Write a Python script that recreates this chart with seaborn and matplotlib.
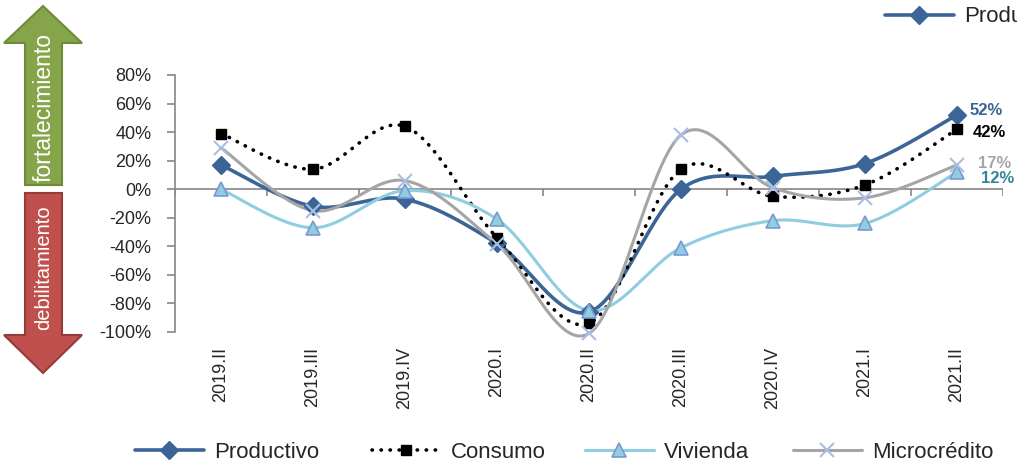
import numpy as np
import pandas as pd
import matplotlib.pyplot as plt
import seaborn as sns
from matplotlib.lines import Line2D
from matplotlib.patches import Polygon
from matplotlib.ticker import PercentFormatter

periodos = ["2019.II", "2019.III", "2019.IV", "2020.I", "2020.II",
            "2020.III", "2020.IV", "2021.I", "2021.II"]
productivo = [0.17, -0.12, -0.07, -0.38, -0.86, 0.00, 0.09, 0.18, 0.52]
consumo = [0.39, 0.14, 0.44, -0.34, -0.94, 0.14, -0.05, 0.03, 0.42]
vivienda = [0.00, -0.27, -0.01, -0.21, -0.85, -0.41, -0.22, -0.24, 0.12]
microcredito = [0.29, -0.15, 0.06, -0.385, -1.01, 0.38, 0.01, -0.06, 0.17]
nombres = ["Productivo", "Consumo", "Vivienda", "Microcrédito"]
marcas_y = [-1.0, -0.8, -0.6, -0.4, -0.2, 0.0, 0.2, 0.4, 0.6, 0.8]

sns.set_style("white")
plt.rcParams["font.family"] = ["Liberation Sans", "DejaVu Sans"]
plt.rcParams["axes.unicode_minus"] = False


def suavizar(y, n=30):
    # curva suave tipo excel (bezier con tangentes catmull-rom)
    p = np.column_stack([np.arange(len(y)), y])
    pts = []
    for i in range(len(p) - 1):
        p0 = p[i - 1] if i > 0 else p[i]
        p3 = p[i + 2] if i + 2 < len(p) else p[i + 1]
        c1 = p[i] + (p[i + 1] - p0) / 6
        c2 = p[i + 1] - (p3 - p[i]) / 6
        t = np.linspace(0, 1, n)[:, None]
        seg = (1 - t) ** 3 * p[i] + 3 * (1 - t) ** 2 * t * c1 + 3 * (1 - t) * t ** 2 * c2 + t ** 3 * p[i + 1]
        pts.append(seg if i == 0 else seg[1:])
    return np.vstack(pts)


estilos = {
    "Productivo": dict(color="#3B6596", lw=2.6, ls="-", marker="D", ms=9, mfc="#3B6596", mec="#3B6596", mew=1),
    "Consumo": dict(color="black", lw=2.6, ls=(0, (0.1, 2.4)), marker="s", ms=7.5, mfc="black", mec="black", mew=1),
    "Vivienda": dict(color="#8FCDE0", lw=2.2, ls="-", marker="^", ms=10, mfc="#8FCDE0", mec="#7B98D0", mew=1.2),
    "Microcrédito": dict(color="#A5A5A5", lw=2.2, ls="-", marker="x", ms=10, mfc="#A9BEE3", mec="#A9BEE3", mew=1.5),
}
colores_etiqueta = {"Productivo": "#3B6596", "Consumo": "black", "Vivienda": "#31849B", "Microcrédito": "#A5A5A5"}
desfases = {"Productivo": (13, 4), "Consumo": (16, -3), "Vivienda": (24, -6), "Microcrédito": (21, 1)}

fig = plt.figure(figsize=(10.17, 4.66), dpi=100)

# flechas de la izquierda
fondo = fig.add_axes([0, 0, 1, 1], zorder=0)
fondo.set_xlim(0, 1017)
fondo.set_ylim(466, 0)
fondo.axis("off")
arriba = [(43, 6), (82, 43), (62, 43), (62, 185), (25, 185), (25, 43), (4, 43)]
abajo = [(25, 193), (62, 193), (62, 335), (82, 335), (43, 373), (4, 335), (25, 335)]
fondo.add_patch(Polygon(arriba, closed=True, fc="#86A54A", ec="#6E8A3A", lw=1.5))
fondo.add_patch(Polygon(abajo, closed=True, fc="#C0504D", ec="#963B38", lw=1.5))
fondo.text(44, 108, "fortalecimiento", rotation=90, color="white", ha="center", va="center", fontsize=16.5)
fondo.text(44, 268, "debilitamiento", rotation=90, color="white", ha="center", va="center", fontsize=14.5)

ax = fig.add_axes([175 / 1017, 1 - 332 / 466, (1003 - 175) / 1017, (332 - 75) / 466], zorder=1)
ax.patch.set_alpha(0)

datos = {"Productivo": productivo, "Consumo": consumo, "Vivienda": vivienda, "Microcrédito": microcredito}
x = np.arange(len(periodos))
for nombre in nombres:
    est = estilos[nombre]
    curva = suavizar(datos[nombre])
    df = pd.DataFrame({"x": curva[:, 0], "y": curva[:, 1]})
    sns.lineplot(data=df, x="x", y="y", ax=ax, sort=False, color=est["color"], lw=est["lw"],
                 linestyle=est["ls"], dash_capstyle="round", clip_on=False)
    ax.plot(x, datos[nombre], ls="none", marker=est["marker"], ms=est["ms"], mfc=est["mfc"],
            mec=est["mec"], mew=est["mew"], clip_on=False, zorder=3)
    ultimo = datos[nombre][-1]
    ax.annotate(f"{ultimo:.0%}", (x[-1], ultimo), xytext=desfases[nombre], textcoords="offset pixels",
                ha="left", va="center", fontsize=12, fontweight="bold", color=colores_etiqueta[nombre])

ax.set_xlim(-0.5, len(periodos) - 0.5)
ax.set_ylim(-1.0, 0.8)
ax.set_yticks(marcas_y)
ax.yaxis.set_major_formatter(PercentFormatter(1.0, decimals=0))
ax.set_xticks(x)
ax.set_xticklabels(periodos, rotation=90)
ax.tick_params(axis="x", length=0, pad=11, labelsize=13)
ax.tick_params(axis="y", length=6, width=1.2, color="#868686", pad=11, labelsize=13, left=True)
for lado in ["top", "right", "bottom"]:
    ax.spines[lado].set_visible(False)
ax.spines["left"].set_color("#868686")
ax.spines["left"].set_linewidth(1.2)
ax.axhline(0, color="#868686", lw=1.2, zorder=0.5)
ax.vlines(np.arange(-0.5, len(periodos)), -0.05, 0, color="#868686", lw=1.2, zorder=0.5)
ax.set_xlabel("")
ax.set_ylabel("")


def manija(nombre):
    est = estilos[nombre]
    return Line2D([], [], color=est["color"], lw=est["lw"], ls=est["ls"], dash_capstyle="round",
                  marker=est["marker"], ms=est["ms"], mfc=est["mfc"], mec=est["mec"], mew=est["mew"])


# leyenda inferior, una entrada por posicion
for nombre, x0 in zip(nombres, [135, 372, 585, 793]):
    fig.legend(handles=[manija(nombre)], labels=[nombre], loc="center left",
               bbox_to_anchor=(x0 / 1017, 1 - 452 / 466), frameon=False, fontsize=16,
               handlelength=3.1, handletextpad=0.45, borderpad=0, borderaxespad=0)

# leyenda recortada arriba a la derecha
fig.legend(handles=[manija("Productivo")], labels=["Productivo"], loc="center left",
           bbox_to_anchor=(885 / 1017, 1 - 17 / 466), frameon=False, fontsize=16,
           handlelength=3.1, handletextpad=0.45, borderpad=0, borderaxespad=0)

fig.savefig("out.png", dpi=100)
